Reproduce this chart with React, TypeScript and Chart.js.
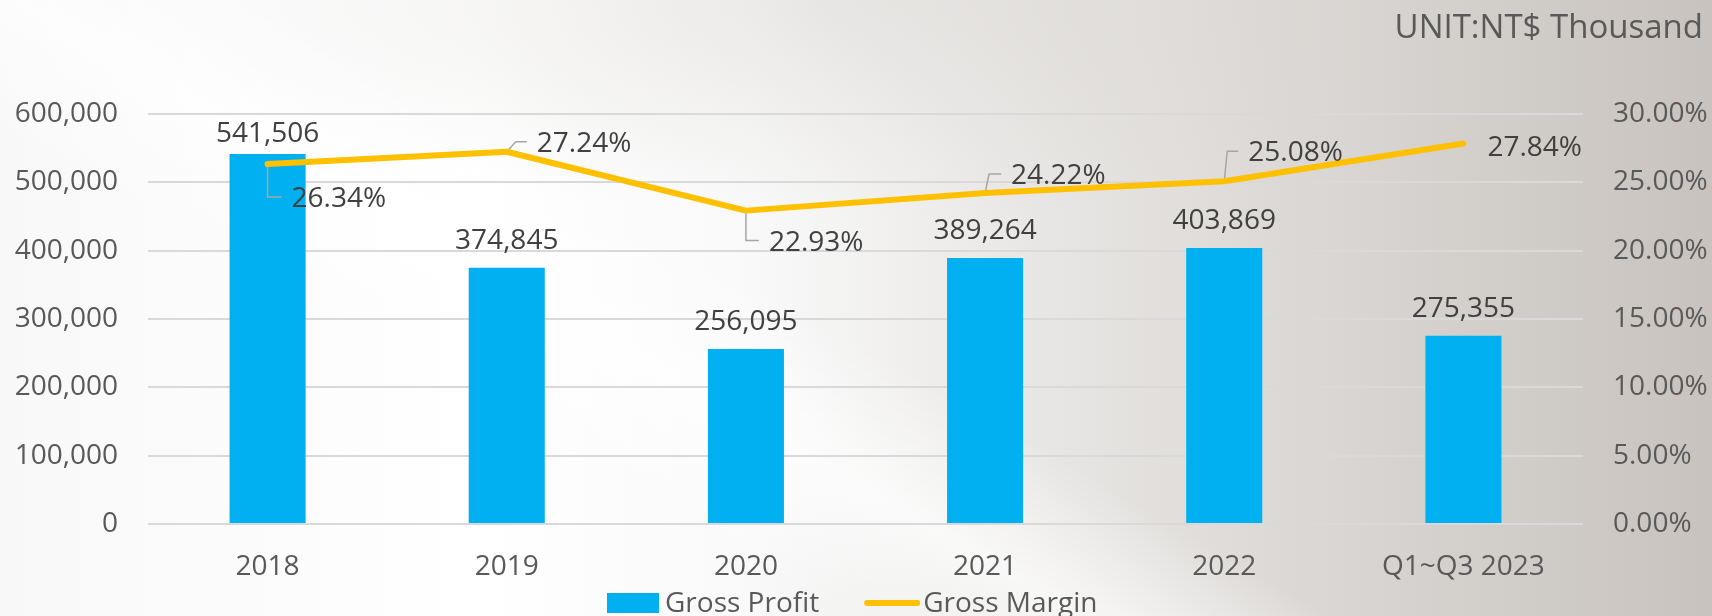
import React, { useEffect, useRef } from 'react';
import { Chart, registerables } from 'chart.js';

Chart.register(...registerables);

// ---- data ----
const categories = ['2018', '2019', '2020', '2021', '2022', 'Q1~Q3 2023'];
const grossProfit = [541506, 374845, 256095, 389264, 403869, 275355];
const grossMargin = [26.34, 27.24, 22.93, 24.22, 25.08, 27.84];
const profitAxis = { min: 0, max: 600000, step: 100000 };
const marginAxis = { min: 0, max: 30, step: 5 };
const seriesNames = ['Gross Profit', 'Gross Margin'];
const unitLabel = 'UNIT:NT$ Thousand';

// ---- styles ----
const FONT = '"Open Sans", "Noto Sans", sans-serif';
const BAR_COLOR = '#00B0F0';
const LINE_COLOR = '#FFC000';
const TICK_COLOR = '#595959';
const LABEL_COLOR = '#404040';
const LEADER_COLOR = '#a6a6a6';

// label placement for the margin labels (offset of text start / centre from the point)
const marginLabelPlacement: { dx: number; dy: number; elbow: number | null }[] = [
  { dx: 24, dy: 33, elbow: 0 },
  { dx: 30, dy: -10, elbow: 9 },
  { dx: 23, dy: 30, elbow: 0 },
  { dx: 26, dy: -19, elbow: 4 },
  { dx: 24, dy: -30, elbow: 3 },
  { dx: 24, dy: 2, elbow: null },
];

const fmtInt = (v: number) => v.toLocaleString('en-US');
const fmtPct = (v: number) => v.toFixed(2) + '%';

const labelsPlugin = {
  id: 'customLabels',
  afterDatasetDraw(chart: any, args: any) {
    if (args.index !== 0) return;
    // leader lines: drawn after bars, before the line
    const ctx = chart.ctx;
    const meta = chart.getDatasetMeta(1);
    ctx.save();
    ctx.strokeStyle = LEADER_COLOR;
    ctx.lineWidth = 1.5;
    meta.data.forEach((pt: any, i: number) => {
      const p = marginLabelPlacement[i];
      if (!p || p.elbow === null) return;
      const tx = pt.x + p.dx;
      const ty = pt.y + p.dy;
      ctx.beginPath();
      ctx.moveTo(pt.x, pt.y);
      ctx.lineTo(pt.x + p.elbow, ty);
      ctx.lineTo(tx - 10, ty);
      ctx.stroke();
    });
    ctx.restore();
  },
  afterDatasetsDraw(chart: any) {
    const ctx = chart.ctx;
    const area = chart.chartArea;
    ctx.save();
    ctx.font = `28px ${FONT}`;
    ctx.fillStyle = LABEL_COLOR;
    ctx.textBaseline = 'alphabetic';
    // bar labels
    ctx.textAlign = 'center';
    const barMeta = chart.getDatasetMeta(0);
    barMeta.data.forEach((bar: any, i: number) => {
      let base = bar.y - 19;
      const cap = 20;
      if (base - cap < area.top + 8) base = area.top + 8 + cap;
      ctx.fillText(fmtInt(grossProfit[i]), bar.x, base);
    });
    // margin labels
    ctx.textAlign = 'left';
    const lineMeta = chart.getDatasetMeta(1);
    lineMeta.data.forEach((pt: any, i: number) => {
      const p = marginLabelPlacement[i];
      ctx.fillText(fmtPct(grossMargin[i]), pt.x + p.dx, pt.y + p.dy + 10);
    });
    ctx.restore();
  },
  afterDraw(chart: any) {
    const ctx = chart.ctx;
    ctx.save();
    // unit title
    ctx.font = `33px ${FONT}`;
    ctx.fillStyle = TICK_COLOR;
    ctx.textAlign = 'right';
    ctx.textBaseline = 'alphabetic';
    ctx.fillText(unitLabel, chart.width - 9, 38);
    // legend
    ctx.font = `28px ${FONT}`;
    const ly = chart.height - 13;
    let x = Math.round(chart.width * 0.3545);
    ctx.fillStyle = BAR_COLOR;
    ctx.fillRect(x, ly - 10, 52, 20);
    x += 58;
    ctx.fillStyle = TICK_COLOR;
    ctx.textAlign = 'left';
    ctx.fillText(seriesNames[0], x, ly + 9);
    x += ctx.measureText(seriesNames[0]).width + 45;
    ctx.strokeStyle = LINE_COLOR;
    ctx.lineWidth = 6;
    ctx.lineCap = 'round';
    ctx.beginPath();
    ctx.moveTo(x + 3, ly);
    ctx.lineTo(x + 53, ly);
    ctx.stroke();
    x += 59;
    ctx.fillText(seriesNames[1], x, ly + 9);
    ctx.restore();
  },
};

export default function App() {
  const ref = useRef<HTMLCanvasElement | null>(null);

  useEffect(() => {
    if (!ref.current) return;
    const chart = new Chart(ref.current, {
      data: {
        labels: categories,
        datasets: [
          {
            type: 'bar',
            label: seriesNames[0],
            data: grossProfit,
            backgroundColor: BAR_COLOR,
            yAxisID: 'y',
            barPercentage: 0.318,
            categoryPercentage: 1,
            order: 1,
          },
          {
            type: 'line',
            label: seriesNames[1],
            data: grossMargin,
            borderColor: LINE_COLOR,
            backgroundColor: LINE_COLOR,
            borderWidth: 6,
            pointRadius: 0,
            borderCapStyle: 'round',
            borderJoinStyle: 'round',
            tension: 0,
            yAxisID: 'y1',
            order: 0,
          },
        ],
      } as any,
      options: {
        responsive: false,
        animation: false,
        devicePixelRatio: 1,
        layout: { padding: { top: 114, left: 0, right: 0, bottom: 0 } },
        plugins: {
          legend: { display: false },
          tooltip: { enabled: false },
          title: { display: false },
        },
        scales: {
          x: {
            grid: { display: false, drawTicks: false },
            border: { display: false },
            ticks: {
              color: TICK_COLOR,
              font: { family: FONT, size: 28 },
              padding: 26,
              maxRotation: 0,
              autoSkip: false,
            },
            afterFit: (s: any) => {
              s.height = 92;
            },
          },
          y: {
            position: 'left',
            min: profitAxis.min,
            max: profitAxis.max,
            grid: { color: '#d9d9d9', lineWidth: 2, drawTicks: false },
            border: { display: false },
            ticks: {
              stepSize: profitAxis.step,
              color: TICK_COLOR,
              font: { family: FONT, size: 28 },
              padding: 30,
              callback: (v: any) => fmtInt(Number(v)),
            },
            afterFit: (s: any) => {
              s.width = 148;
            },
          },
          y1: {
            position: 'right',
            min: marginAxis.min,
            max: marginAxis.max,
            grid: { display: false, drawTicks: false },
            border: { display: false },
            ticks: {
              stepSize: marginAxis.step,
              color: TICK_COLOR,
              font: { family: FONT, size: 28 },
              padding: 30,
              callback: (v: any) => fmtPct(Number(v)),
            },
            afterFit: (s: any) => {
              s.width = 129;
            },
          },
        },
      } as any,
      plugins: [labelsPlugin],
    });
    return () => chart.destroy();
  }, []);

  return (
    <div
      style={{
        position: 'fixed',
        left: 0,
        top: 0,
        width: 1712,
        height: 616,
        overflow: 'hidden',
        background:
          'linear-gradient(30deg, rgba(255,255,255,0) 30%, rgba(255,255,255,0.7) 39%, rgba(255,255,255,0) 48%),' +
          'radial-gradient(ellipse 40% 35% at 50% 0%, rgba(215,212,208,0.45), rgba(215,212,208,0) 100%),' +
          'linear-gradient(to right, #f8f8f8 0%, #ffffff 28%, #f9f9f9 44%, #e7e5e3 62%, #d7d4d1 80%, #c8c3bf 100%)',
      }}
    >
      <canvas ref={ref} width={1712} height={616} style={{ display: 'block' }} />
    </div>
  );
}
